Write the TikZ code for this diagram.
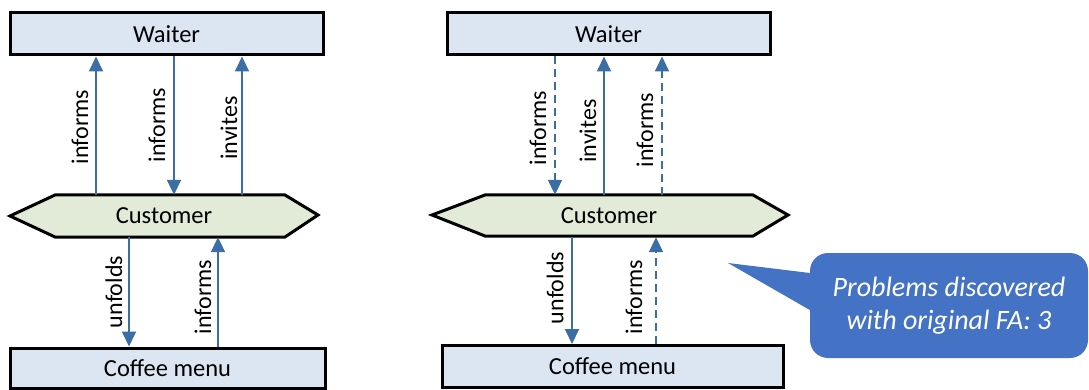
\documentclass[tikz,border=0pt]{standalone}
\usepackage{fontspec}
\setmainfont{Carlito}
\usetikzlibrary{arrows.meta}
\definecolor{boxfill}{HTML}{DCE6F2}
\definecolor{hexfill}{HTML}{E2EBD7}
\definecolor{arrowblue}{HTML}{3A6EA5}
\definecolor{callblue}{HTML}{4472C4}
\tikzset{
  box/.style={draw=black, line width=3pt, fill=boxfill, inner sep=0pt,
    font=\fontsize{24.5}{28}\selectfont},
  hexshape/.style={draw=black, line width=3pt, fill=hexfill, line join=miter},
  hexlabel/.style={inner sep=0pt, minimum width=200pt, minimum height=42pt,
    font=\fontsize{24.5}{28}\selectfont},
  flow/.style={draw=arrowblue, line width=2pt,
    -{Triangle[width=14pt,length=15pt]}},
  weak/.style={flow, dash pattern=on 8pt off 5pt},
  lbl/.style={rotate=90, inner sep=0pt, font=\fontsize{24}{28}\selectfont},
}
\begin{document}
\begin{tikzpicture}[x=1pt,y=-1pt]
\useasboundingbox (0,0) rectangle (1089,390);

% ---------- left diagram ----------
\node[box, minimum width=313pt, minimum height=42pt] (waiterL) at (166.5,34) {Waiter};
\draw[hexshape] (10,216) -- (55,195) -- (285,195) -- (318,215) -- (285,237) -- (55,237) -- cycle;
\node[hexlabel] (custL) at (164,216) {Customer};
\node[box, minimum width=315pt, minimum height=40pt] (menuL) at (167.5,368) {Coffee menu};

\coordinate (l1) at (96,0);
\coordinate (l2) at (174,0);
\coordinate (l3) at (242,0);
\coordinate (l4) at (129,0);
\coordinate (l5) at (218,0);

\draw[flow] (custL.north -| l1) -- (waiterL.south -| l1);
\draw[flow] (waiterL.south -| l2) -- (custL.north -| l2);
\draw[flow] (custL.north -| l3) -- (waiterL.south -| l3);
\draw[flow] (custL.south -| l4) -- (menuL.north -| l4);
\draw[flow] (menuL.north -| l5) -- (custL.south -| l5);

\node[lbl] (tL1) at (80,127) {informs};
\node[lbl] (tL2) at (157,125) {informs};
\node[lbl] (tL3) at (229,128) {invites};
\node[lbl] (tL4) at (114,292) {unfolds};
\node[lbl] (tL5) at (203,297) {informs};

% ---------- right diagram ----------
\node[box, minimum width=323pt, minimum height=42pt] (waiterR) at (608.5,34) {Waiter};
\draw[hexshape] (432,215) -- (485,195) -- (753,195) -- (788,215) -- (753,236) -- (485,236) -- cycle;
\node[hexlabel] (custR) at (609,216) {Customer};
\node[box, minimum width=341pt, minimum height=42pt] (menuR) at (612.5,366.5) {Coffee menu};

\coordinate (r1) at (555,0);
\coordinate (r2) at (604,0);
\coordinate (r3) at (662,0);
\coordinate (r4) at (572,0);
\coordinate (r5) at (656,0);

\draw[weak] (waiterR.south -| r1) -- (custR.north -| r1);
\draw[flow] (custR.north -| r2) -- (waiterR.south -| r2);
\draw[weak] (custR.north -| r3) -- (waiterR.south -| r3);
\draw[flow] (custR.south -| r4) -- (menuR.north -| r4);
\draw[weak] (menuR.north -| r5) -- (custR.south -| r5);

\node[lbl] (tR1) at (538,128) {informs};
\node[lbl] (tR2) at (588,131) {invites};
\node[lbl] (tR3) at (645,130) {informs};
\node[lbl] (tR4) at (555,288) {unfolds};
\node[lbl] (tR5) at (634,297) {informs};

% ---------- callout ----------
\node[fill=callblue, rounded corners=18pt, minimum width=278pt, minimum height=105pt,
      inner sep=0pt, text=white, align=center,
      font=\fontsize{28}{33}\selectfont\itshape] (callout) at (949,305.5)
      {Problems discovered\\with original FA: 3};
\fill[callblue] ([yshift=32.5pt]callout.west) -- (728,263) -- ([yshift=-4.5pt]callout.west)
   -- ([xshift=10pt,yshift=-4.5pt]callout.west) -- ([xshift=10pt,yshift=32.5pt]callout.west) -- cycle;
\end{tikzpicture}
\end{document}
